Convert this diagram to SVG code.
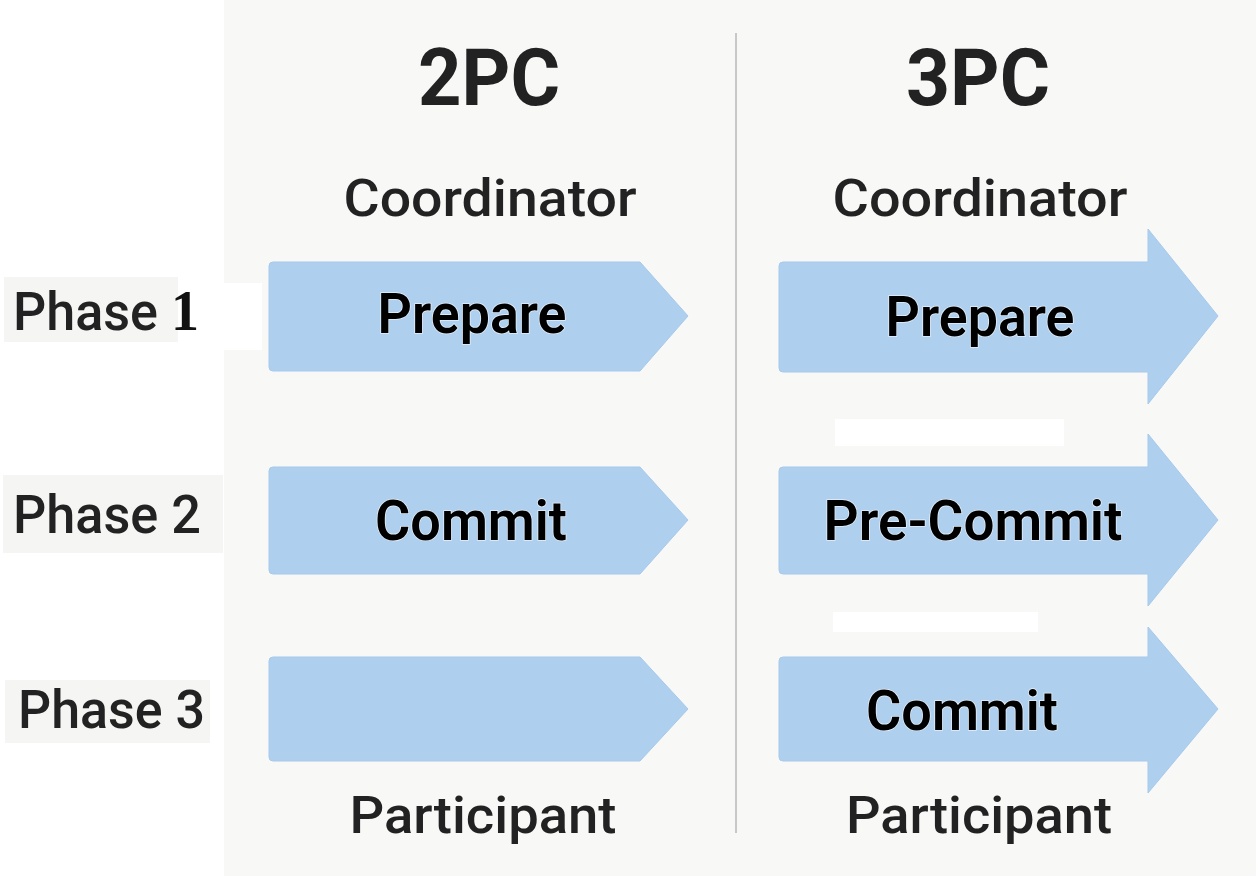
<svg xmlns="http://www.w3.org/2000/svg" width="1256" height="876" viewBox="0 0 1256 876">
<style>
.bg{fill:#f8f8f7}
.lbl{fill:#f5f5f4}
.arrow{fill:#afcfee;stroke:#a6c9ec;stroke-width:1}
.title{font-family:Roboto,"Liberation Sans",sans-serif;font-weight:bold;font-size:80px;fill:#222;text-anchor:middle}
.role{font-family:Roboto,"Liberation Sans",sans-serif;font-weight:500;font-size:52px;fill:#222;text-anchor:middle}
.step{font-family:Roboto,"Liberation Sans",sans-serif;font-weight:600;font-size:56px;fill:#000;text-anchor:middle;stroke:#e6f0fa;stroke-width:1.5;paint-order:stroke}
.phase{font-family:Roboto,"Liberation Sans",sans-serif;font-weight:500;font-size:54px;fill:#222}
</style>
<rect x="0" y="0" width="1256" height="876" fill="#ffffff"/>
<rect class="bg" x="224" y="0" width="1032" height="876"/>
<g id="phase-labels">
<g id="phase1">
<rect class="lbl" x="4" y="277" width="174" height="65"/>
<rect x="178" y="283" width="84" height="67" fill="#ffffff"/>
<text class="phase" x="13" y="330" textLength="145" lengthAdjust="spacingAndGlyphs">Phase</text>
<text x="171" y="330" font-family="'Liberation Serif',serif" font-weight="bold" font-size="56" fill="#111">1</text>
</g>
<g id="phase2">
<rect class="lbl" x="3" y="475" width="220" height="78"/>
<text class="phase" x="13" y="533" textLength="188" lengthAdjust="spacingAndGlyphs">Phase 2</text>
</g>
<g id="phase3">
<rect class="lbl" x="5" y="680" width="205" height="63"/>
<text class="phase" x="18" y="728" textLength="187" lengthAdjust="spacingAndGlyphs">Phase 3</text>
</g>
</g>
<g id="connectors">
<line x1="736" y1="33" x2="736" y2="833" stroke="#c8c8c8" stroke-width="2"/>
</g>
<g id="col-2pc">
<text class="title" x="489" y="105" textLength="142" lengthAdjust="spacingAndGlyphs">2PC</text>
<text class="role" x="490" y="216" textLength="293" lengthAdjust="spacingAndGlyphs">Coordinator</text>
<g id="prepare-2pc">
<path class="arrow" d="M273,262 H640 L688,316 L640,371 H273 Q269,371 269,367 V266 Q269,262 273,262 Z"/>
<text class="step" x="472" y="333" textLength="189" lengthAdjust="spacingAndGlyphs">Prepare</text>
</g>
<g id="commit-2pc">
<path class="arrow" d="M273,467 H640 L688,520 L640,574 H273 Q269,574 269,570 V471 Q269,467 273,467 Z"/>
<text class="step" x="471" y="540" textLength="192" lengthAdjust="spacingAndGlyphs">Commit</text>
</g>
<g id="phase3-2pc">
<path class="arrow" d="M273,657 H640 L688,709 L640,761 H273 Q269,761 269,757 V661 Q269,657 273,657 Z"/>
</g>
<text class="role" x="483" y="833" textLength="267" lengthAdjust="spacingAndGlyphs">Participant</text>
</g>
<g id="col-3pc">
<text class="title" x="978" y="105" textLength="144" lengthAdjust="spacingAndGlyphs">3PC</text>
<text class="role" x="980" y="216" textLength="295" lengthAdjust="spacingAndGlyphs">Coordinator</text>
<g id="prepare-3pc">
<path class="arrow" d="M783,262 H1148 V229 L1218,316 L1148,404 V372 H783 Q779,372 779,368 V266 Q779,262 783,262 Z"/>
<text class="step" x="980" y="336" textLength="189" lengthAdjust="spacingAndGlyphs">Prepare</text>
</g>
<rect x="835" y="419" width="229" height="27" fill="#ffffff"/>
<g id="precommit-3pc">
<path class="arrow" d="M783,467 H1148 V434 L1218,520 L1148,606 V574 H783 Q779,574 779,570 V471 Q779,467 783,467 Z"/>
<text class="step" x="973" y="540" textLength="299" lengthAdjust="spacingAndGlyphs">Pre-Commit</text>
</g>
<rect x="833" y="612" width="205" height="20" fill="#ffffff"/>
<g id="commit-3pc">
<path class="arrow" d="M783,657 H1148 V627 L1218,709 L1148,793 V761 H783 Q779,761 779,757 V661 Q779,657 783,657 Z"/>
<text class="step" x="962" y="730" textLength="192" lengthAdjust="spacingAndGlyphs">Commit</text>
</g>
<text class="role" x="979" y="833" textLength="266" lengthAdjust="spacingAndGlyphs">Participant</text>
</g>
</svg>
